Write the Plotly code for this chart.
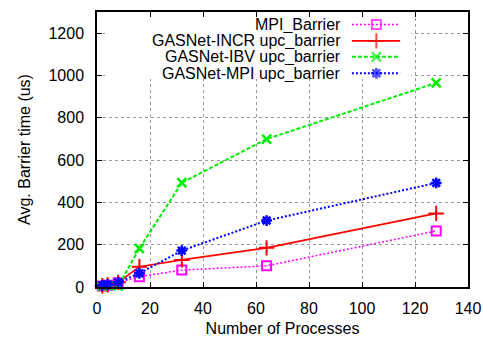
import plotly.graph_objects as go

# ---- data ----
processes = [2, 4, 8, 16, 32, 64, 128]
mpi_barrier = [5, 8, 20, 49, 80, 100, 265]
gasnet_incr = [6, 10, 22, 96, 128, 185, 348]
gasnet_ibv = [4, 6, 5, 182, 493, 699, 965]
gasnet_mpi = [8, 12, 22, 65, 172, 314, 492]

series_names = ["MPI_Barrier", "GASNet-INCR upc_barrier",
                "GASNet-IBV upc_barrier", "GASNet-MPI upc_barrier"]
series_values = [mpi_barrier, gasnet_incr, gasnet_ibv, gasnet_mpi]

x_ticks = [0, 20, 40, 60, 80, 100, 120, 140]
y_ticks = [0, 200, 400, 600, 800, 1000, 1200]

styles = [
    dict(color="#ff00ff", dash="2px,2px", width=1.5, symbol="square-open", size=9, lw=2),
    dict(color="#ff0000", dash="solid", width=1.7, symbol="cross-thin", size=11, lw=2),
    dict(color="#00ee00", dash="4px,2px", width=2, symbol="x-thin", size=9, lw=2.5),
    dict(color="#0000ff", dash="2px,2px", width=2, symbol="asterisk", size=9, lw=2.5),
]

FONT = "Liberation Sans, Arial, sans-serif"
fig = go.Figure()

for name, vals, st in zip(series_names, series_values, styles):
    fig.add_trace(go.Scatter(
        x=processes, y=vals, name=name, mode="lines+markers",
        line=dict(color=st["color"], dash=st["dash"], width=st["width"]),
        marker=dict(symbol=st["symbol"], size=st["size"], color=st["color"],
                    line=dict(color=st["color"], width=st["lw"])),
        showlegend=False, cliponaxis=False,
    ))

# ---- custom gnuplot-style key (opaque box, text right-aligned, sample right) ----
box_x0, box_x1, box_y0, box_y1 = 0.0216, 0.847, 0.756, 1.0
fig.add_trace(go.Scatter(
    x=[box_x0, box_x1, box_x1, box_x0, box_x0],
    y=[box_y0, box_y0, box_y1, box_y1, box_y0],
    xaxis="x2", yaxis="y2", mode="lines", fill="toself",
    fillcolor="white", line=dict(width=0, color="white"),
    showlegend=False, hoverinfo="skip",
))

key_text_x = 0.660
key_x0, key_xm, key_x1 = 0.687, 0.753, 0.817
key_rows = [0.955, 0.895, 0.837, 0.777]
for name, st, ky in zip(series_names, styles, key_rows):
    fig.add_trace(go.Scatter(
        x=[key_x0, key_xm, key_x1], y=[ky, ky, ky], mode="lines+markers",
        xaxis="x2", yaxis="y2",
        line=dict(color=st["color"], dash=st["dash"], width=st["width"]),
        marker=dict(symbol=st["symbol"], size=[0, st["size"], 0], color=st["color"],
                    line=dict(color=st["color"], width=st["lw"])),
        showlegend=False, hoverinfo="skip",
    ))
    fig.add_annotation(x=key_text_x, y=ky, xref="paper", yref="paper",
                       text=name, showarrow=False, xanchor="right", yanchor="middle",
                       height=17, borderpad=0,
                       font=dict(family=FONT, size=16, color="black"))

axis_common = dict(
    showline=True, linecolor="black", linewidth=1.5, mirror="ticks",
    ticks="inside", ticklen=5, tickcolor="black", tickwidth=1,
    showgrid=True, gridcolor="#999999", griddash="dot", gridwidth=1,
    zeroline=False, automargin=False,
    tickfont=dict(family=FONT, size=16, color="black"),
)

fig.update_layout(
    width=483, height=337,
    margin=dict(l=97, r=15, t=12, b=50, autoexpand=False),
    paper_bgcolor="white", plot_bgcolor="white",
    font=dict(family=FONT, size=16, color="black"),
    xaxis=dict(range=[0, 140], tickvals=x_ticks, ticklabelstandoff=6,
               title=dict(text="Number of Processes", standoff=7,
                          font=dict(family=FONT, size=16)),
               **axis_common),
    yaxis=dict(range=[0, 1300], tickvals=y_ticks, ticklabelstandoff=8,
               title=dict(text="Avg. Barrier time (us)", standoff=14,
                          font=dict(family=FONT, size=16)),
               **axis_common),
    xaxis2=dict(range=[0, 1], overlaying="x", visible=False, fixedrange=True),
    yaxis2=dict(range=[0, 1], overlaying="y", visible=False, fixedrange=True),
    showlegend=False,
)

fig.write_html("out.html")
